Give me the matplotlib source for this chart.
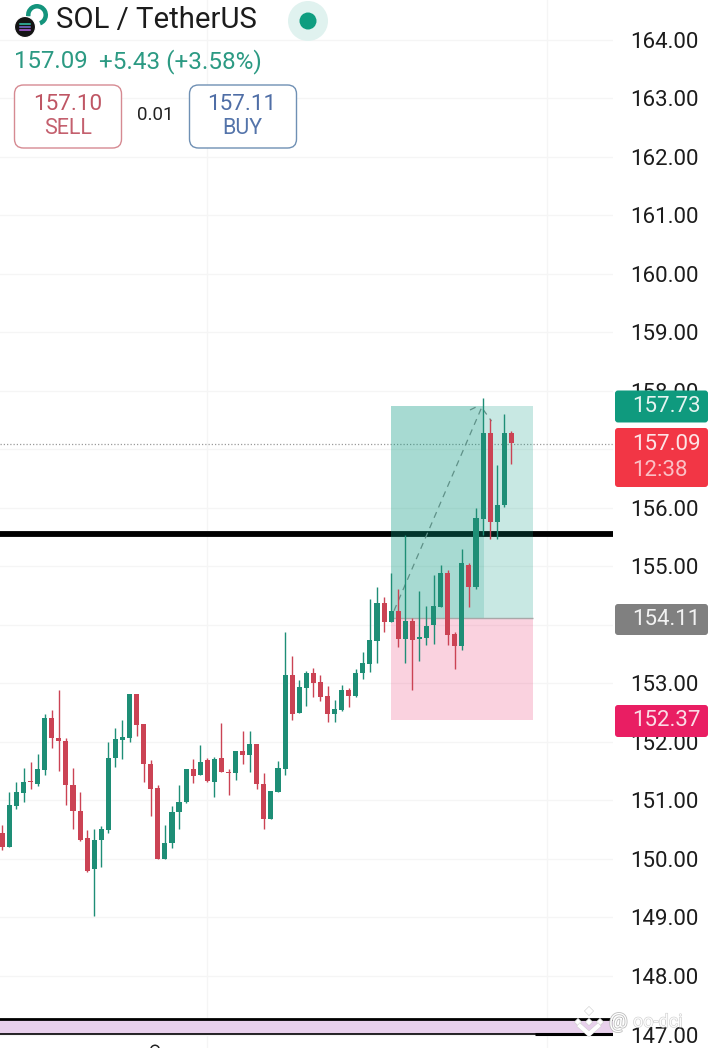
import matplotlib
matplotlib.use('Agg')
import matplotlib.pyplot as plt
import matplotlib.patheffects as pe
import numpy as np
from matplotlib.patches import Rectangle, FancyBboxPatch, Circle, Wedge

plt.rcParams['font.family'] = ['Roboto', 'DejaVu Sans']

# candles
opens = [150.44, 150.20, 150.90, 151.12, 151.33, 151.28, 151.52, 152.41, 152.07, 152.02,
         151.27, 150.82, 150.35, 149.82, 150.32, 150.49, 151.72, 152.04, 152.07, 152.81,
         152.30, 151.63, 151.22, 150.00, 150.27, 150.81, 150.98, 151.54, 151.43, 151.69,
         151.32, 151.72, 151.49, 151.47, 151.84, 151.78, 151.97, 151.28, 150.69, 151.14,
         151.53, 153.15, 152.50, 152.92, 153.17, 153.03, 152.78, 152.48, 152.55, 152.88,
         152.78, 153.17, 153.33, 153.73, 154.38, 154.05, 154.23, 153.76, 154.07, 153.76,
         153.77, 153.99, 154.31, 154.89, 153.85, 153.64, 155.03, 154.65, 155.81, 157.28,
         155.75, 156.04, 157.28]
closes = [150.20, 150.93, 151.14, 151.32, 151.31, 151.53, 152.41, 152.07, 152.01, 151.26,
          150.82, 150.32, 149.80, 150.33, 150.51, 151.72, 152.05, 152.09, 152.81, 152.28,
          151.62, 151.20, 150.00, 150.28, 150.81, 150.98, 151.54, 151.41, 151.66, 151.33,
          151.70, 151.49, 151.46, 151.84, 151.78, 151.97, 151.28, 150.69, 151.16, 151.55,
          153.15, 152.47, 152.93, 153.17, 153.01, 152.76, 152.47, 152.57, 152.89, 152.78,
          153.18, 153.34, 153.74, 154.38, 154.05, 154.23, 153.76, 154.07, 153.74, 153.78,
          153.98, 154.32, 154.89, 153.83, 153.64, 155.05, 154.65, 155.83, 157.28, 155.76,
          156.05, 157.28, 157.10]
highs = [150.58, 151.14, 151.31, 151.55, 151.66, 151.80, 152.48, 152.55, 152.88, 152.07,
         151.55, 151.15, 150.49, 150.51, 150.56, 152.00, 152.24, 152.37, 152.82, 152.81,
         152.31, 151.69, 151.27, 150.58, 150.90, 151.26, 151.54, 151.70, 151.94, 151.72,
         151.74, 152.33, 151.53, 151.84, 152.19, 152.19, 151.97, 151.46, 151.16, 151.67,
         153.88, 153.46, 153.05, 153.21, 153.27, 153.15, 152.96, 152.72, 152.98, 152.92,
         153.25, 153.53, 154.44, 154.65, 154.48, 154.89, 154.61, 155.54, 154.12, 154.57,
         154.32, 154.85, 155.03, 154.93, 153.87, 155.30, 155.05, 156.00, 157.88, 157.52,
         156.73, 157.61, 157.31]
lows = [150.15, 150.20, 150.86, 150.98, 151.19, 151.24, 151.43, 151.89, 151.51, 150.93,
        150.52, 150.31, 149.77, 149.03, 149.87, 150.44, 151.57, 151.70, 151.99, 152.10,
        151.32, 150.74, 150.00, 150.00, 150.19, 150.52, 150.95, 151.29, 151.43, 151.31,
        151.06, 151.48, 151.09, 151.35, 151.62, 151.48, 151.20, 150.51, 150.69, 151.14,
        151.44, 152.38, 152.49, 152.61, 152.76, 152.69, 152.34, 152.34, 152.53, 152.59,
        152.77, 153.07, 153.20, 153.34, 153.88, 154.04, 153.62, 153.34, 152.89, 153.38,
        153.66, 153.67, 154.30, 153.66, 153.25, 153.57, 154.31, 154.61, 155.54, 155.46,
        155.46, 156.02, 156.75]

price_ticks = list(range(147, 165))
hidden_labels = [154, 157]  # fully behind the price tags in the app
grid_times = [29, 77]

# long position tool
entry = 154.11
target = 157.73
stop = 152.37
pos_start = 55
pos_end = 75.07
pos_now = 68.1

last_price = 157.09
support = 155.55
band_low = 147.01
band_high = 147.25

path_x = [55.4, 67.9]
path_y = [154.24, 157.74]
path2_x = [66.15, 67.33]
path2_y = [157.67, 157.74]
path3_x = [68.0, 69.2]
path3_y = [157.68, 157.48]

GREEN = '#1e8e76'
RED = '#cb4354'
TEAL = '#089981'

W, H = 716, 1048
fig = plt.figure(figsize=(W / 100, H / 100), dpi=100, facecolor='white')
ax = fig.add_axes([0, 0, 612.5 / W, 1])
ax.set_xlim(-0.325, 86.31)
ax.set_ylim(146.77, 164.675)

ax.set_yticks(price_ticks)
ax.set_yticklabels(['' if p in hidden_labels else '{:.2f}'.format(p) for p in price_ticks],
                   fontsize=16, color='#1c1c1c')
ax.yaxis.tick_right()
ax.tick_params(axis='y', length=0, pad=13)
ax.set_xticks(grid_times)
ax.tick_params(axis='x', length=0, labelbottom=False)
ax.grid(True, color='#f5f5f5', lw=1)
ax.set_axisbelow(True)
for s in ax.spines.values():
    s.set_visible(False)

# support line goes under the position box
ax.axhline(support, color='black', lw=4.2, zorder=1.2)
ax.axhline(last_price, color='#9a9a9a', lw=0.9, ls=(0, (1, 1.6)), zorder=1.3)

# band at the bottom
ax.axhspan(band_low, band_high, color='#e8d0ec', lw=0, zorder=1.1)
ax.axhline(band_high + 0.01, color='black', lw=2.0, zorder=1.2)
ax.axhline(band_low, color='black', lw=1.2, zorder=1.2)
ax.hlines(band_low, pos_end + 0.3, 86.31, color='black', lw=2.2, zorder=1.2)

# position boxes
ax.add_patch(Rectangle((pos_start, entry), pos_end - pos_start, target - entry,
                       fc=TEAL, alpha=0.22, lw=0, zorder=2))
ax.add_patch(Rectangle((pos_start, stop), pos_end - pos_start, entry - stop,
                       fc='#e91e63', alpha=0.2, lw=0, zorder=2))
ax.add_patch(Rectangle((pos_start, entry), pos_now - pos_start, target - entry,
                       fc=TEAL, alpha=0.17, lw=0, zorder=2.1))
ax.hlines(entry, pos_start, pos_end, color='#a8a8a8', lw=1, zorder=2.2)

for px, py in [(path_x, path_y), (path2_x, path2_y), (path3_x, path3_y)]:
    ax.plot(px, py, color='#5f9188', lw=0.9, ls=(0, (5, 4)), zorder=2.3)

# candles
idx = np.arange(len(opens))
o = np.array(opens)
c = np.array(closes)
colors = [GREEN if b >= a else RED for a, b in zip(opens, closes)]
ax.vlines(idx, lows, highs, colors=colors, lw=1.0, zorder=3)
ax.bar(idx, np.maximum(np.abs(c - o), 0.03), bottom=np.minimum(o, c), width=0.72,
       color=colors, lw=0, zorder=3.1)

# overlay in pixels for the app's header and price tags
ui = fig.add_axes([0, 0, 1, 1], zorder=5)
ui.set_xlim(0, W)
ui.set_ylim(H, 0)
ui.axis('off')
ui.patch.set_alpha(0)


def price_y(p):
    return 39.5 + (164 - p) * 58.53


def tag(y0, y1, color):
    ui.add_patch(FancyBboxPatch((615, y0), 93, y1 - y0, boxstyle='round,pad=0,rounding_size=3',
                                fc=color, ec='none', zorder=2))


y = price_y(target)
tag(y - 16, y + 16, '#0f9a7e')
ui.text(632, y + 0.5, '{:.2f}'.format(target), color='#e4f4f0', fontsize=16, va='center', ha='left', zorder=3)

y = price_y(last_price)
tag(428, 487, '#f23645')
ui.text(632, y + 0.5, '{:.2f}'.format(last_price), color='#fde3e5', fontsize=16, va='center', ha='left', zorder=3)
ui.text(632, 471, '12:38', color='#fbc0c5', fontsize=16, va='center', ha='left', zorder=3)

y = price_y(entry)
tag(604, 635, '#808080')
ui.text(632, y + 1, '{:.2f}'.format(entry), color='#f2f2f2', fontsize=16, va='center', ha='left', zorder=3)

y = price_y(stop)
tag(705, 737, '#e91e63')
ui.text(632, y + 0.5, '{:.2f}'.format(stop), color='#fbdce6', fontsize=16, va='center', ha='left', zorder=3)

# header
ui.add_patch(Wedge((37, 15), 11, -190, 70, width=4.5, fc='#14947c', ec='none', zorder=2))
ui.add_patch(Circle((25, 27), 10.5, fc='#141414', ec='white', lw=0.8, zorder=3))
for dy, col in [(-3, '#35c8b0'), (0, '#7a70d8'), (3, '#b060e0')]:
    ui.plot([20, 30], [27 + dy, 27 + dy], color=col, lw=1.1, zorder=4)
ui.text(56, 19.5, 'SOL / TetherUS', fontsize=21.2, color='#1c1c1c', va='center', ha='left')
ui.add_patch(Circle((308, 21), 20, fc='#e0f2ef', ec='none', zorder=2))
ui.add_patch(Circle((308, 21), 8.5, fc='#0f9d80', ec='none', zorder=3))

ui.text(14, 61.5, '157.09', fontsize=17.3, color='#2c9a83', va='center', ha='left')
ui.text(99, 61.5, '+5.43 (+3.58%)', fontsize=17.5, color='#2c9a83', va='center', ha='left')

ui.add_patch(FancyBboxPatch((14.5, 85), 107, 63, boxstyle='round,pad=0,rounding_size=9',
                            fc='white', ec='#d68a92', lw=1))
ui.add_patch(FancyBboxPatch((189.5, 85), 107, 63, boxstyle='round,pad=0,rounding_size=9',
                            fc='white', ec='#6f90b4', lw=1))
ui.text(68, 104, '157.10', fontsize=16.2, color='#bf5664', va='center', ha='center')
ui.text(68, 129, 'SELL', fontsize=15.5, color='#c4606e', va='center', ha='center')
ui.text(155, 115, '0.01', fontsize=13.5, color='#222222', va='center', ha='center')
ui.text(242, 104, '157.11', fontsize=16.2, color='#4f6ea6', va='center', ha='center')
ui.text(242, 129, 'BUY', fontsize=15.5, color='#5474aa', va='center', ha='center')

# cut off label at the bottom edge
ui.add_patch(Wedge((155, 1049.5), 5, 180, 360, width=1.5, fc='#222222', ec='none'))

# watermark
outline = [pe.withStroke(linewidth=1.2, foreground='#bdbdbd')]
wm_x = [589, 578, 600, 589]
wm_y = [1011, 1022, 1022, 1022]
ui.scatter(wm_x, wm_y, marker='D', s=[22, 14, 14, 14], color='white', edgecolors='#cccccc', lw=0.4, zorder=6)
ui.plot([580, 589, 598], [1026, 1034, 1026], color='white', lw=3, zorder=6,
        path_effects=[pe.withStroke(linewidth=3.6, foreground='#cccccc')])
ui.text(609, 1022, '@', fontsize=15, color='white', va='center', ha='left', zorder=6, path_effects=outline)
ui.text(633, 1022, 'oo-dci', fontsize=13, color='white', va='center', ha='left', alpha=0.9, zorder=6,
        path_effects=[pe.withStroke(linewidth=0.8, foreground='#c8c8c8')])

fig.savefig('out.png', dpi=100, facecolor='white')
